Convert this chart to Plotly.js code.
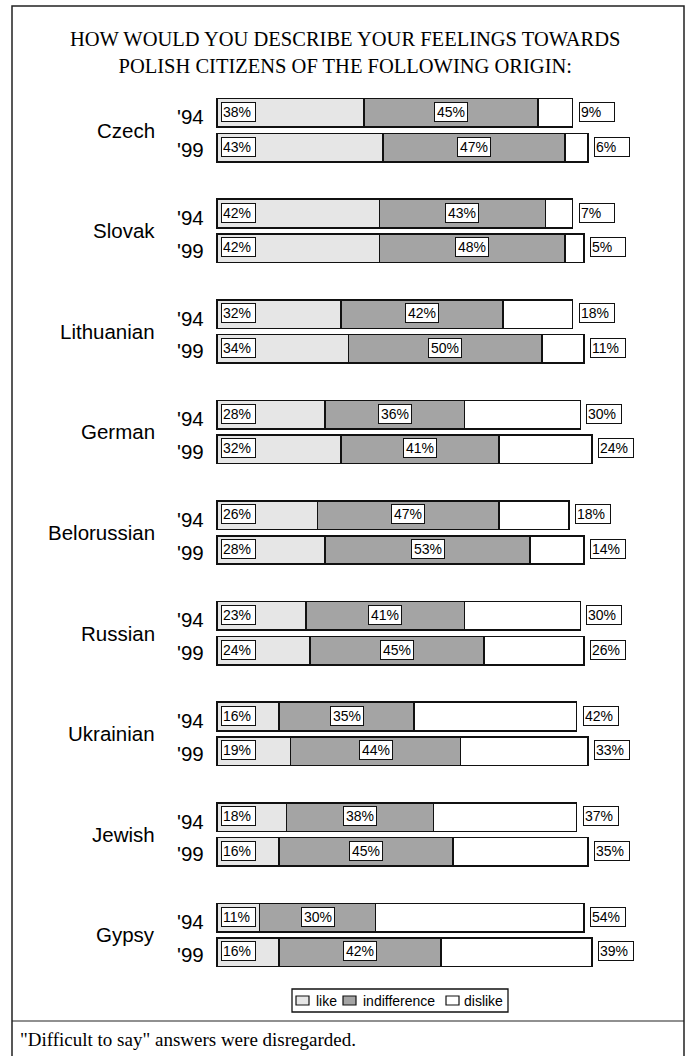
<!DOCTYPE html>
<html>
<head>
<meta charset="utf-8">
<script src="https://cdn.plot.ly/plotly-3.0.1.min.js"></script>
<style>
  html, body { margin: 0; padding: 0; background: #ffffff; }
  #chart { width: 690px; height: 1056px; }
</style>
</head>
<body>
<div id="chart"></div>
<script>
// Survey: feelings towards Polish citizens of various origins, 1994 vs 1999 (%)
const origins = ['Czech', 'Slovak', 'Lithuanian', 'German', 'Belorussian', 'Russian', 'Ukrainian', 'Jewish', 'Gypsy'];
const years = ["'94", "'99"];

const like94     = [38, 42, 32, 28, 26, 23, 16, 18, 11];
const indiff94   = [45, 43, 42, 36, 47, 41, 35, 38, 30];
const dislike94  = [9, 7, 18, 30, 18, 30, 42, 37, 54];

const like99     = [43, 42, 34, 32, 28, 24, 19, 16, 16];
const indiff99   = [47, 48, 50, 41, 53, 45, 44, 45, 42];
const dislike99  = [6, 5, 11, 24, 14, 26, 33, 35, 39];

const seriesNames = ['like', 'indifference', 'dislike'];
const titleText = 'HOW WOULD YOU DESCRIBE YOUR FEELINGS TOWARDS<br>POLISH CITIZENS OF THE FOLLOWING ORIGIN:';
const noteText = '"Difficult to say" answers were disregarded.';

// ---- styling ----
const W = 690, H = 1056;
const SANS = 'Liberation Sans, Arial, sans-serif';
const SERIF = 'Liberation Serif, Times New Roman, serif';
const fills = ['#e6e6e6', '#a4a4a4', '#ffffff'];
const ink = '#111111';
const yearOffset = [-0.17, 0.175];   // position of each year's bar inside a group
const barWidth = 0.283;

// flatten groups into rows: each origin gets a '94 row and a '99 row
const rowsY = [], rowsLike = [], rowsIndiff = [], rowsDislike = [], rowsYear = [];
origins.forEach((o, i) => {
  const sets = [[like94, indiff94, dislike94], [like99, indiff99, dislike99]];
  sets.forEach((s, j) => {
    rowsY.push(i + yearOffset[j]);
    rowsLike.push(s[0][i]);
    rowsIndiff.push(s[1][i]);
    rowsDislike.push(s[2][i]);
    rowsYear.push(years[j]);
  });
});

const seriesValues = [rowsLike, rowsIndiff, rowsDislike];
const traces = seriesValues.map((vals, k) => ({
  type: 'bar',
  orientation: 'h',
  name: seriesNames[k],
  x: vals,
  y: rowsY,
  width: barWidth,
  marker: { color: fills[k], line: { color: ink, width: 1.6 } },
  hoverinfo: 'skip',
  showlegend: false
}));

const px = v => v / W;            // horizontal pixel -> paper
const py = v => 1 - v / H;        // vertical pixel -> paper

const annotations = [];
const boxStyle = {
  showarrow: false,
  bgcolor: '#ffffff',
  bordercolor: ink,
  borderwidth: 1,
  borderpad: 1,
  font: { family: SANS, size: 14, color: '#000' }
};

rowsY.forEach((y, r) => {
  const a = rowsLike[r], b = rowsIndiff[r], c = rowsDislike[r];
  // like value, boxed at the start of the bar
  annotations.push(Object.assign({}, boxStyle, {
    xref: 'x', yref: 'y', x: 0, y: y, xanchor: 'left', yanchor: 'middle',
    xshift: 4, yshift: 1, width: 31, align: 'left', text: a + '%'
  }));
  // indifference value, centred on its segment
  annotations.push(Object.assign({}, boxStyle, {
    xref: 'x', yref: 'y', x: a + b / 2, y: y, xanchor: 'center', yanchor: 'middle',
    yshift: 1, width: 30, align: 'center', text: b + '%'
  }));
  // dislike value, boxed just after the bar end
  annotations.push(Object.assign({}, boxStyle, {
    xref: 'x', yref: 'y', x: a + b + c, y: y, xanchor: 'left', yanchor: 'middle',
    xshift: 6, yshift: 1, width: 32, align: 'left', text: c + '%'
  }));
  // year label
  annotations.push({
    xref: 'x', yref: 'y', x: 0, y: y, xanchor: 'right', yanchor: 'middle',
    xshift: -11, yshift: r % 2 === 0 ? -4 : -2, showarrow: false, text: rowsYear[r],
    font: { family: SANS, size: 20.5, color: '#000' }
  });
});

// origin labels
origins.forEach((o, i) => {
  annotations.push({
    xref: 'paper', yref: 'y', x: px(157), y: i, xanchor: 'right', yanchor: 'middle',
    showarrow: false, text: o, font: { family: SANS, size: 20.5, color: '#000' }
  });
});

// heading
annotations.push({
  xref: 'paper', yref: 'paper', x: px(345), y: py(53), xanchor: 'center', yanchor: 'middle',
  showarrow: false, text: titleText, align: 'center',
  font: { family: SERIF, size: 20.5, color: '#000' }
});

// legend (drawn as a small boxed key)
const legendSwatchX = [296, 343, 446];
const legendTextX = [314, 361, 462];
const shapes = [
  // outer frame and footnote divider
  { type: 'rect', xref: 'paper', yref: 'paper', x0: px(12), x1: px(684), y0: py(1070), y1: py(6),
    line: { color: '#222', width: 1.5 }, fillcolor: 'rgba(0,0,0,0)' },
  { type: 'line', xref: 'paper', yref: 'paper', x0: px(12), x1: px(684), y0: py(1021), y1: py(1021),
    line: { color: '#222', width: 1.2 } },
  // legend box
  { type: 'rect', xref: 'paper', yref: 'paper', x0: px(292), x1: px(508), y0: py(1012), y1: py(989),
    line: { color: ink, width: 1.3 }, fillcolor: '#ffffff' }
];
seriesNames.forEach((n, k) => {
  shapes.push({
    type: 'rect', xref: 'paper', yref: 'paper',
    x0: px(legendSwatchX[k]), x1: px(legendSwatchX[k] + 13), y0: py(1005), y1: py(996),
    line: { color: ink, width: 1.2 }, fillcolor: fills[k]
  });
  annotations.push({
    xref: 'paper', yref: 'paper', x: px(legendTextX[k]), y: py(1000.5), xanchor: 'left', yanchor: 'middle',
    showarrow: false, text: n, font: { family: SANS, size: 14, color: '#000' }
  });
});

// footnote
annotations.push({
  xref: 'paper', yref: 'paper', x: px(18), y: py(1039), xanchor: 'left', yanchor: 'middle',
  showarrow: false, text: noteText,
  font: { family: SERIF, size: 19, color: '#000' }
});

// axis ranges: one unit along y = one origin group
const xStart = 217, pxPerPct = 3.866;
const groupTop = 130, groupPitch = 100.6;

const layout = {
  width: W, height: H,
  margin: { l: 0, r: 0, t: 0, b: 0, pad: 0 },
  paper_bgcolor: '#ffffff', plot_bgcolor: 'rgba(0,0,0,0)',
  barmode: 'stack',
  showlegend: false,
  xaxis: {
    range: [-xStart / pxPerPct, (W - xStart) / pxPerPct],
    visible: false, showgrid: false, zeroline: false, fixedrange: true
  },
  yaxis: {
    range: [(H - groupTop) / groupPitch, -groupTop / groupPitch],
    visible: false, showgrid: false, zeroline: false, fixedrange: true
  },
  shapes: shapes,
  annotations: annotations
};

Plotly.newPlot('chart', traces, layout, { staticPlot: true, displayModeBar: false });
</script>
</body>
</html>
